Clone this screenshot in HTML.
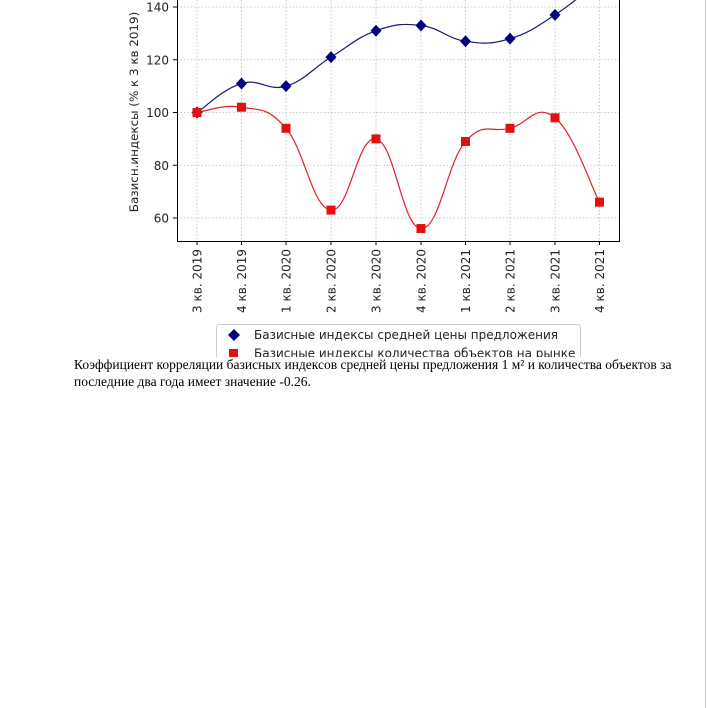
<!DOCTYPE html>
<html><head><meta charset="utf-8"><style>
html,body{margin:0;padding:0;background:#fff;}
body{width:707px;height:708px;position:relative;overflow:hidden;}
#vl{position:absolute;left:705px;top:0;width:1px;height:708px;background:#c8c8c8;}
#txt{position:absolute;left:74px;top:357px;width:612px;font-family:"Liberation Serif",serif;font-size:13.5px;line-height:16.5px;color:#000;}
</style></head><body>
<div id="vl"></div>
<svg width="707" height="357" style="position:absolute;left:0;top:0" font-family="DejaVu Sans, sans-serif">
<g id="grid" stroke="#bbb" stroke-width="0.8" stroke-dasharray="1.5,2"></g>
<g id="series"></g>
<rect x="177.5" y="-5" width="442" height="246.5" fill="none" stroke="#000" stroke-width="1"/>
<g id="ticks" font-size="12" fill="#222"></g>
<text transform="translate(138,112) rotate(-90)" text-anchor="middle" font-size="11.9" fill="#222">Базисн.индексы (% к 3 кв 2019)</text>
<rect x="216.5" y="324.5" width="364" height="50" rx="3" fill="#fff" stroke="#ccc"/>
<path d="M234 329 l6 6 l-6 6 l-6 -6z" fill="#000080"/>
<text x="254" y="339" font-size="12" fill="#222">Базисные индексы средней цены предложения</text>
<rect x="229" y="349" width="9" height="9" fill="#e31010"/>
<text x="254" y="357.5" font-size="12" fill="#222">Базисные индексы количества объектов на рынке</text>
</svg>
<div id="txt">Коэффициент корреляции базисных индексов средней цены предложения 1 м² и количества объектов за последние два года имеет значение -0.26.</div>
<script>
var NS="http://www.w3.org/2000/svg";
var xs=[197,241.5,286,331,376,421,465.5,510,555,599.5];
function Y(v){return 7+(140-v)*2.6375;}
var labs=["3 кв. 2019","4 кв. 2019","1 кв. 2020","2 кв. 2020","3 кв. 2020","4 кв. 2020","1 кв. 2021","2 кв. 2021","3 кв. 2021","4 кв. 2021"];
var g=document.getElementById('grid'),t=document.getElementById('ticks'),s=document.getElementById('series');
function el(n,a,p,txt){var e=document.createElementNS(NS,n);for(var k in a)e.setAttribute(k,a[k]);if(txt)e.textContent=txt;p.appendChild(e);return e;}
xs.forEach(function(x,i){el('line',{x1:x,x2:x,y1:0,y2:241},g);
 el('line',{x1:x,x2:x,y1:241,y2:245,stroke:'#000'},t);
 el('text',{transform:'translate('+(x+4.5)+',249) rotate(-90)','text-anchor':'end'},t,labs[i]);});
[60,80,100,120,140].forEach(function(v){var y=Y(v);el('line',{x1:177,x2:619,y1:y,y2:y},g);
 el('line',{x1:173,x2:177,y1:y,y2:y,stroke:'#000'},t);
 el('text',{x:169,y:y+4.5,'text-anchor':'end'},t,String(v));});
function path(vals){var p=vals.map(function(v,i){return [xs[i],Y(v)];});var d='M'+p[0][0]+' '+p[0][1];
 var k=0.21;
 for(var i=0;i<p.length-1;i++){var p0=p[Math.max(0,i-1)],p1=p[i],p2=p[i+1],p3=p[Math.min(p.length-1,i+2)];
 var c1=[p1[0]+(p2[0]-p0[0])*k,p1[1]+(p2[1]-p0[1])*k],c2=[p2[0]-(p3[0]-p1[0])*k,p2[1]-(p3[1]-p1[1])*k];
 d+=' C'+c1.join(' ')+' '+c2.join(' ')+' '+p2.join(' ');}return d;}
var blue=[100,111,110,121,131,133,127,128,137,150],red=[100,102,94,63,90,56,89,94,98,66];
el('path',{d:path(blue),fill:'none',stroke:'#1a1a6e','stroke-width':1.2},s);
el('path',{d:path(red),fill:'none',stroke:'#e02020','stroke-width':1.2},s);
blue.forEach(function(v,i){var x=xs[i],y=Y(v);el('path',{d:'M'+x+' '+(y-6)+' l5.5 6 l-5.5 6 l-5.5 -6z',fill:'#000080'},s);});
red.forEach(function(v,i){var x=xs[i],y=Y(v);el('rect',{x:x-4.5,y:y-4.5,width:9,height:9,fill:'#e31010'},s);});
</script>
</body></html>
